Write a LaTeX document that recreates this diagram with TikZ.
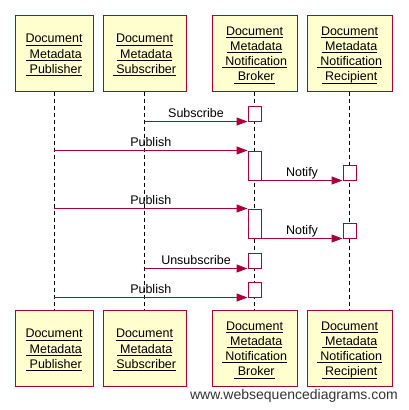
\documentclass[tikz,border=0pt]{standalone}
\usepackage{fontspec}
\setmainfont{Liberation Sans}
\usepackage{tikz}
\usetikzlibrary{
  arrows.meta,
  positioning
}
\definecolor{crimson}{RGB}{168,0,54}
\definecolor{paleyellow}{RGB}{254,254,206}
\newcommand{\ulname}[1]{\underline{\smash{#1}\rule[-0.4pt]{0pt}{13pt}}}

\begin{document}
\begin{tikzpicture}[x=1pt, y=-1pt,
  actor/.style={draw=crimson, fill=paleyellow, line width=1pt, align=center, font=\fontsize{12.5}{15.2}\selectfont, minimum height=76pt, inner sep=0pt},
  lifeline/.style={draw=black, line width=1pt, dash pattern=on 4pt off 3pt},
  activation/.style={draw=crimson, fill=white, line width=1pt, minimum width=13pt, inner sep=0pt},
  msg/.style={draw=crimson, line width=1pt, -{Triangle[length=11pt, width=8pt]}},
  msglabel/.style={font=\fontsize{12.5}{15}\selectfont, inner sep=0pt, text depth=0pt, above=4pt}]
  \useasboundingbox (0,0) rectangle (408,410);

  % participants, top row
  \node[actor, minimum width=78pt] (pubTop) at (54,53) {\ulname{Document}\\\ulname{\ Metadata}\\\ulname{\ Publisher}};
  \node[actor, minimum width=83pt] (subTop) at (144.5,53) {\ulname{Document}\\\ulname{\ Metadata}\\\ulname{\ Subscriber}};
  \node[actor, minimum width=85pt] (brkTop) at (254.5,53) {\ulname{Document}\\\ulname{\ Metadata}\\\ulname{\ Notification}\\\ulname{\ Broker}};
  \node[actor, minimum width=85pt] (recTop) at (349.5,53) {\ulname{Document}\\\ulname{\ Metadata}\\\ulname{\ Notification}\\\ulname{\ Recipient}};

  % participants, bottom row
  \node[actor, minimum width=78pt] (pubBot) at (54,348) {\ulname{Document}\\\ulname{\ Metadata}\\\ulname{\ Publisher}};
  \node[actor, minimum width=83pt] (subBot) at (144.5,348) {\ulname{Document}\\\ulname{\ Metadata}\\\ulname{\ Subscriber}};
  \node[actor, minimum width=85pt] (brkBot) at (254.5,348) {\ulname{Document}\\\ulname{\ Metadata}\\\ulname{\ Notification}\\\ulname{\ Broker}};
  \node[actor, minimum width=85pt] (recBot) at (349.5,348) {\ulname{Document}\\\ulname{\ Metadata}\\\ulname{\ Notification}\\\ulname{\ Recipient}};

  \draw[lifeline] (pubTop) -- (pubBot);
  \draw[lifeline] (subTop) -- (subBot);
  \draw[lifeline] (brkTop) -- (brkBot);
  \draw[lifeline] (recTop) -- (recBot);

  % activations
  \node[activation, minimum height=15pt] (act1) at (brkTop |- 0,113.5) {};
  \node[activation, minimum height=29pt] (act2) at (brkTop |- 0,165.5) {};
  \node[activation, minimum height=15pt] (act3) at (recTop |- 0,172.5) {};
  \node[activation, minimum height=29pt] (act4) at (brkTop |- 0,223.5) {};
  \node[activation, minimum height=15pt] (act5) at (recTop |- 0,230.5) {};
  \node[activation, minimum height=15pt] (act6) at (brkTop |- 0,260.5) {};
  \node[activation, minimum height=15pt] (act7) at (brkTop |- 0,289.5) {};

  % messages
  \draw[msg] (subTop |- act1.south west) -- (act1.south west) node[msglabel, midway] {Subscribe};
  \draw[msg] (pubTop |- act2.north west) -- (act2.north west) node[msglabel, midway] {Publish};
  \draw[msg] (act2.south east) -- (act3.south west) node[msglabel, midway] {Notify};
  \draw[msg] (pubTop |- act4.north west) -- (act4.north west) node[msglabel, midway] {Publish};
  \draw[msg] (act4.south east) -- (act5.south west) node[msglabel, midway] {Notify};
  \draw[msg] (subTop |- act6.south west) -- (act6.south west) node[msglabel, midway] {Unsubscribe};
  \draw[msg] (pubTop |- act7.south west) -- (act7.south west) node[msglabel, midway] {Publish};

  \node[font=\fontsize{14}{16}\selectfont, text=black!80, anchor=base east, inner sep=0pt] (credit) at (398,399) {www.websequencediagrams.com};
\end{tikzpicture}
\end{document}
